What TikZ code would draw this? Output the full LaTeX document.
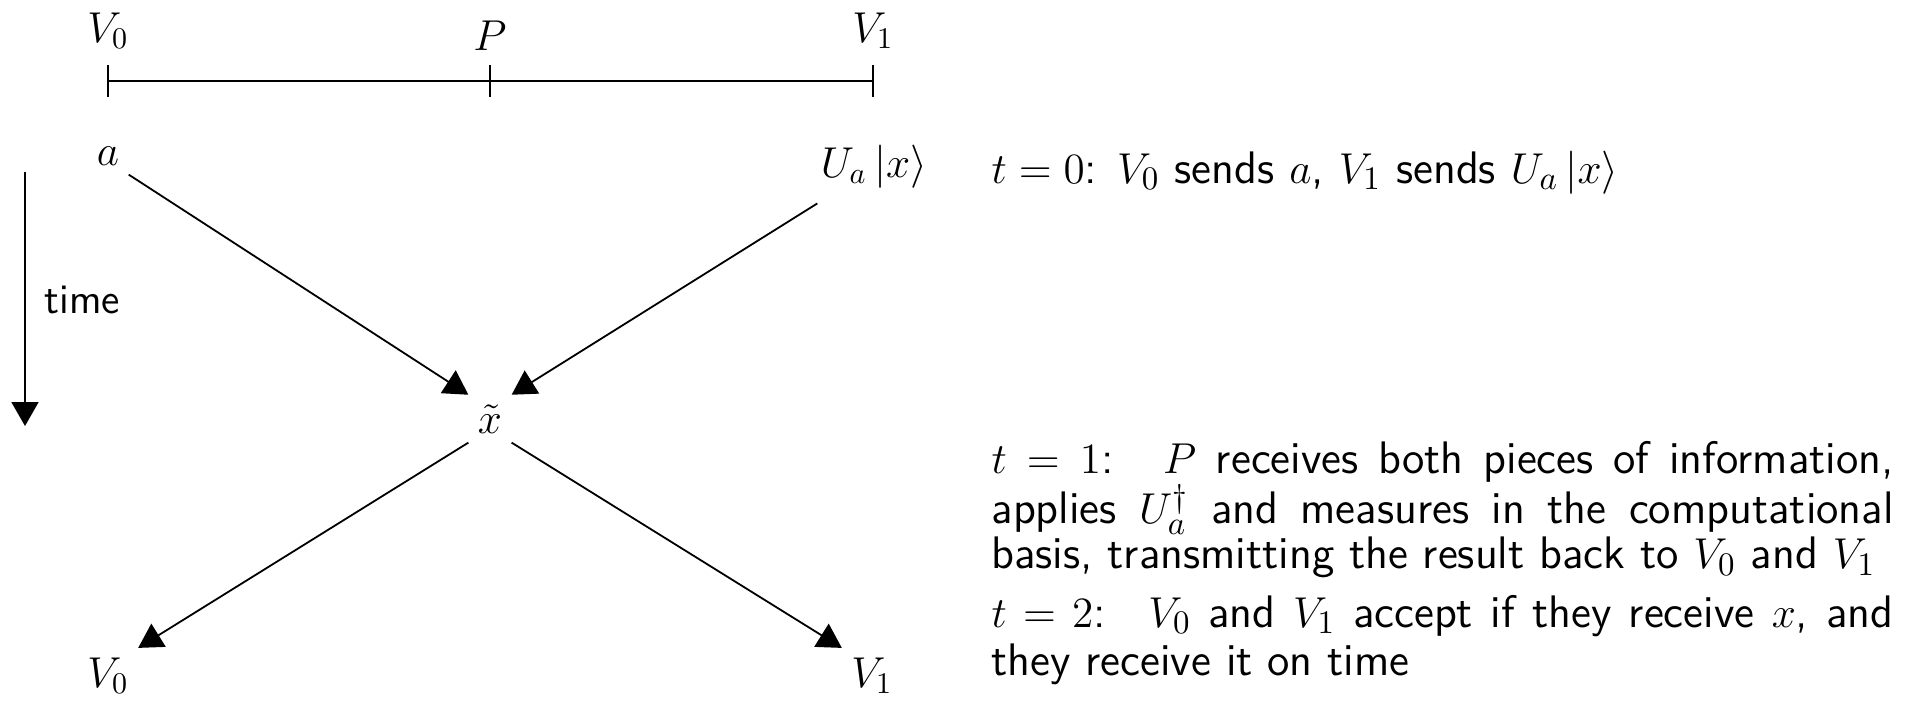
\documentclass[tikz,border=0pt]{standalone}
\usetikzlibrary{arrows.meta}
\tikzset{
  lbl/.style={font=\fontsize{14}{17}\selectfont, inner sep=3pt},
  tri/.style={-{Triangle[length=8pt,width=9pt]}, line width=0.6pt},
  thin line/.style={line width=0.6pt},
  para/.style={anchor=base west, text width=300.67pt, align=justify, inner sep=0pt,
    font=\sffamily\fontsize{15.2}{16}\selectfont},
  paratight/.style={para, font=\sffamily\fontsize{15.2}{14}\selectfont},
}
\begin{document}
\hyphenpenalty=10000
\exhyphenpenalty=10000
\lineskiplimit=-\maxdimen
\begin{tikzpicture}[x=0.33333pt,y=-0.33333pt]
\useasboundingbox (0,0) rectangle (1931,723);
% top scale
\node[lbl, anchor=base] (V0a) at (108,42) {$V_0$};
\node[lbl, anchor=base] (Pa) at (490,50) {$P$};
\node[lbl, anchor=base] (V1a) at (873,42) {$V_1$};
\coordinate (L0) at (108,81);
\coordinate (LP) at (490,81);
\coordinate (L1) at (873,81);
\draw[thin line] (L0) -- (L1);
\draw[thin line] (L0) ++(0,-16) -- ++(0,32);
\draw[thin line] (LP) ++(0,-16) -- ++(0,32);
\draw[thin line] (L1) ++(0,-16) -- ++(0,32);
% diagram
\node[lbl, anchor=base] (a) at (108,165) {$a$};
\node[lbl, anchor=base] (U) at (874,177) {$U_a\left|x\right\rangle$};
\node[lbl, anchor=base] (xt) at (490,433) {$\tilde{x}$};
\node[lbl, anchor=base] (V0b) at (108,687) {$V_0$};
\node[lbl, anchor=base] (V1b) at (872,687) {$V_1$};
\draw[tri] (a.south east) -- (xt.north west);
\draw[tri] ([shift={(6,6)}]U.south west) -- (xt.north east);
\draw[tri] (xt.south west) -- (V0b.north east);
\draw[tri] (xt.south east) -- (V1b.north west);
% time
\coordinate (T0) at (25,172);
\coordinate (T1) at (25,426);
\draw[tri] (T0) -- (T1);
\node[lbl, anchor=base west, inner sep=0pt, font=\sffamily\fontsize{14}{17}\selectfont] (time) at (44,313) {time};
% text
\node[para] (s0) at (991,183) {$t=0$: $V_0$ sends $a$, $V_1$ sends $U_a\left|x\right\rangle$};
\node[paratight] (s1) at (991,473) {$t = 1$: \ $P$ receives both pieces of information, applies $U_a^\dagger$ and measures in the computational basis, transmitting the result back to $V_0$ and $V_1$};
\node[para] (s2) at (991,627) {$t = 2$: \ $V_0$ and $V_1$ accept if they receive $x$, and they receive it on time};
\end{tikzpicture}
\end{document}
